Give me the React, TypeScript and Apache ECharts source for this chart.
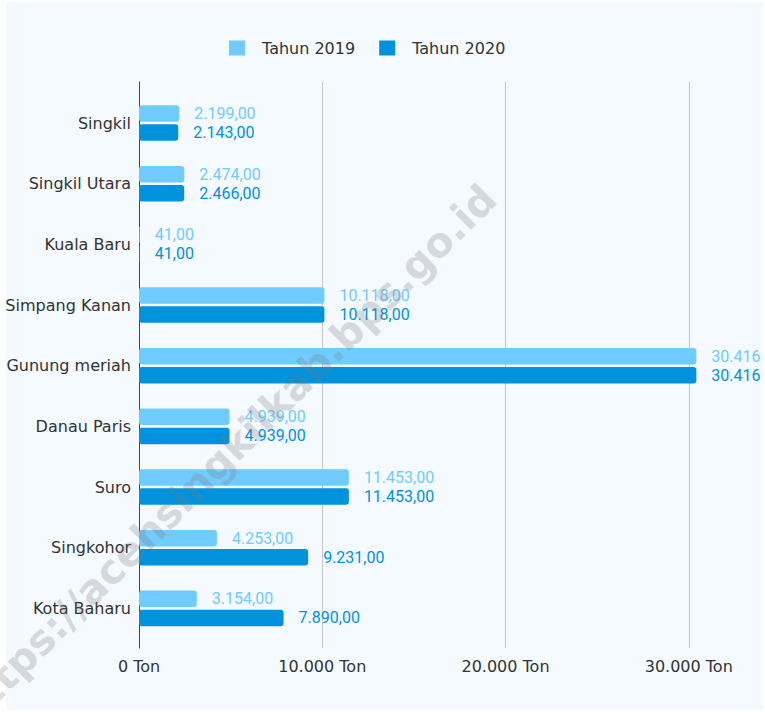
import React, { useEffect, useRef } from "react";
import * as echarts from "echarts";

const categories = [
  "Singkil",
  "Singkil Utara",
  "Kuala Baru",
  "Simpang Kanan",
  "Gunung meriah",
  "Danau Paris",
  "Suro",
  "Singkohor",
  "Kota Baharu",
];
const tahun2019 = [2199, 2474, 41, 10118, 30416, 4939, 11453, 4253, 3154];
const tahun2020 = [2143, 2466, 41, 10118, 30416, 4939, 11453, 9231, 7890];
const seriesNames = ["Tahun 2019", "Tahun 2020"];
const axisMax = 40000;
const axisInterval = 10000;
const watermark = "https://acehsingkilkab.bps.go.id";

const thousands = (v: number) =>
  Math.round(v)
    .toString()
    .replace(/\B(?=(\d{3})+(?!\d))/g, ".");
const fmtValue = (v: number) => thousands(v) + ",00";

const C19 = "#70cbff";
const C20 = "#0092dd";
const SANS = "Verdana, 'DejaVu Sans', sans-serif";

export default function App() {
  const ref = useRef<HTMLDivElement>(null);
  useEffect(() => {
    if (!ref.current) return;
    const chart = echarts.init(ref.current, undefined, { renderer: "svg" });
    const mkData = (arr: number[]) =>
      arr.map((v) =>
        v > 30000
          ? { value: v, label: { width: 51, overflow: "truncate", ellipsis: "" } }
          : v
      );
    const labelFor = (color: string) => ({
      show: true,
      position: "right",
      distance: 15,
      color,
      fontFamily: "Roboto, sans-serif",
      fontSize: 16,
      formatter: (p: any) => fmtValue(p.value),
    });
    chart.setOption({
      animation: false,
      backgroundColor: "#ffffff",
      legend: {
        data: seriesNames,
        left: 224,
        top: 35,
        itemWidth: 16,
        itemHeight: 15,
        itemGap: 24,
        icon: "rect",
        textStyle: {
          fontFamily: SANS,
          fontSize: 16,
          color: "#333",
          padding: [0, 0, 0, 12],
        },
      },
      grid: [
        { left: 139, top: 82, width: 733, height: 566, outerBoundsMode: "none", containLabel: false },
        { left: 139, top: 92.7, width: 733, height: 546, outerBoundsMode: "none", containLabel: false },
      ],
      xAxis: [
        {
          gridIndex: 0,
          type: "value",
          min: 0,
          max: axisMax,
          interval: axisInterval,
          axisLine: { show: false },
          axisTick: { show: false },
          splitLine: { show: true, lineStyle: { color: "#c8c8c8", width: 1 } },
          axisLabel: {
            margin: 10,
            showMaxLabel: false,
            fontFamily: SANS,
            fontSize: 16,
            color: "#333",
            formatter: (v: number) => thousands(v) + " Ton",
          },
        },
        {
          gridIndex: 1,
          type: "value",
          min: 0,
          max: axisMax,
          interval: axisInterval,
          show: false,
        },
      ],
      yAxis: [
        {
          gridIndex: 0,
          type: "value",
          axisLine: { show: true, onZero: false, lineStyle: { color: "#444", width: 1 } },
          axisTick: { show: false },
          axisLabel: { show: false },
          splitLine: { show: false },
        },
        {
          gridIndex: 1,
          type: "category",
          inverse: true,
          data: categories,
          axisLine: { show: false },
          axisTick: { show: false },
          axisLabel: {
            margin: 8,
            fontFamily: SANS,
            fontSize: 16,
            color: "#333",
          },
        },
      ],
      series: [
        {
          name: seriesNames[0],
          type: "bar",
          xAxisIndex: 1,
          yAxisIndex: 1,
          data: mkData(tahun2019),
          barWidth: 16.5,
          barGap: "16%",
          itemStyle: { color: C19, borderRadius: 3 },
          label: labelFor(C19),
        },
        {
          name: seriesNames[1],
          type: "bar",
          xAxisIndex: 1,
          yAxisIndex: 1,
          data: mkData(tahun2020),
          barWidth: 16.5,
          barGap: "16%",
          itemStyle: { color: C20, borderRadius: 3 },
          label: labelFor(C20),
        },
      ],
      graphic: {
        elements: [
          {
            type: "rect",
            z: -10,
            silent: true,
            shape: { x: 6, y: 2, width: 757, height: 708 },
            style: { fill: "#f4faff" },
          },
          {
            type: "text",
            z: 100,
            silent: true,
            x: 226,
            y: 455,
            rotation: Math.PI / 4,
            style: {
              text: watermark,
              fill: "rgba(120,120,120,0.25)",
              fontFamily: "'DejaVu Sans', sans-serif",
              fontWeight: "bold",
              fontSize: 41,
              align: "center",
              verticalAlign: "middle",
            },
          },
        ],
      },
    });
    return () => chart.dispose();
  }, []);
  return (
    <div
      ref={ref}
      style={{ position: "fixed", left: 0, top: 0, width: 765, height: 712 }}
    />
  );
}
